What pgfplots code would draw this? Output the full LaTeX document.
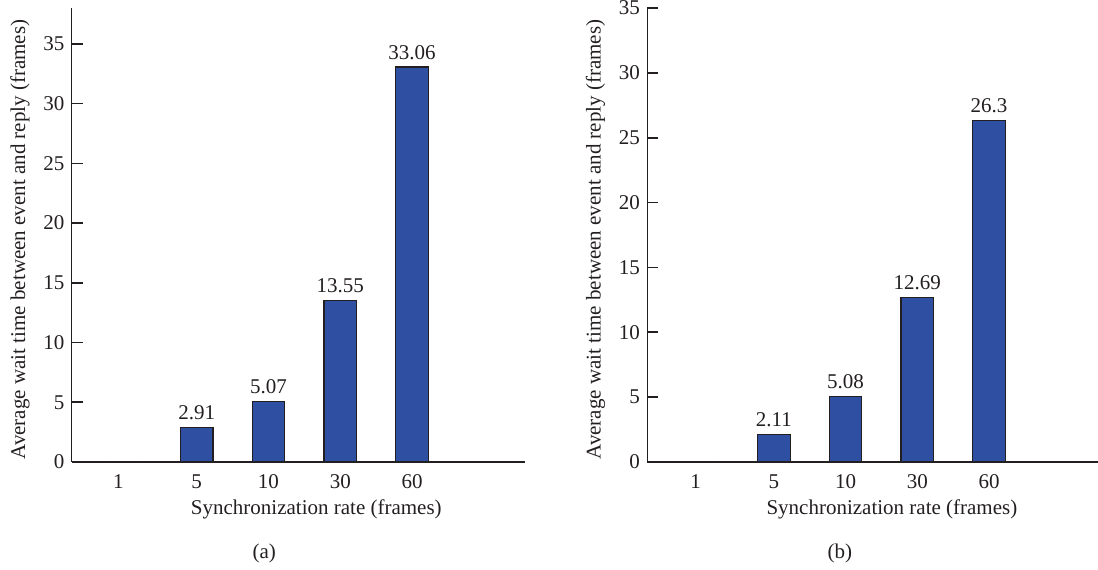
\documentclass[border=0pt]{standalone}
\usepackage{fontspec}
\setmainfont{Liberation Serif}
\usepackage{pgfplots}
\pgfplotsset{compat=1.18}
\definecolor{barblue}{RGB}{47,79,162}
\definecolor{ink}{RGB}{35,31,32}
\pgfplotsset{
 panel/.style={
  scale only axis, width=226.5pt, height=227pt,
  clip mode=individual,
  axis x line=bottom, axis y line=left,
  axis line style={-, line width=0.8pt, color=ink},
  enlargelimits=false, ymin=0,
  xtick={-0.09,1,2,3,4}, xticklabels={1,5,10,30,60},
  xtick style={draw=none},
  xticklabel style={yshift=-2.5pt},
  ytick={0,5,...,35}, tick align=inside, major tick length=5.5pt,
  ytick style={line width=0.8pt, color=ink},
  bar width=16.3pt,
  /pgf/number format/assume math mode=true,
  tick label style={color=ink},
  label style={color=ink},
  xlabel={Synchronization rate (frames)},
  xlabel style={at={(axis description cs:0.54,-0.1035)}, anchor=center},
  ylabel={Average wait time between event and reply (frames)},
  ylabel style={at={(axis description cs:-0.1143,0.49)}, anchor=center},
  nodes near coords style={color=ink},
 },
 bars/.style={ybar, fill=barblue, draw=ink, line width=0.6pt},
}
\begin{document}
\fontsize{10.5}{12.5}\selectfont
\begin{tikzpicture}
\path[use as bounding box] (-35.85pt,-53.5pt) rectangle (513.15pt,231pt);
\begin{axis}[panel, at={(0pt,0pt)}, anchor=south west,
  xmin=-0.742, xmax=5.57, ymax=38]
\addplot[bars, line width=0.9pt] coordinates {(0,0)};
\addplot[bars, nodes near coords, point meta=explicit symbolic]
  coordinates {(1,2.91)[2.91] (2,5.07)[5.07] (3,13.55)[13.55] (4,33.06)[33.06]};
\node[color=ink] at (axis description cs:0.425,-0.2004) {(a)};
\end{axis}
\begin{axis}[panel, at={(287.8pt,0pt)}, anchor=south west,
  xmin=-0.763, xmax=5.55, ymax=35]
\addplot[bars, line width=0.9pt] coordinates {(0,0)};
\addplot[bars, nodes near coords, point meta=explicit symbolic]
  coordinates {(1,2.11)[2.11] (2,5.08)[5.08] (3,12.69)[12.69] (4,26.3)[26.3]};
\node[color=ink] at (axis description cs:0.425,-0.2004) {(b)};
\end{axis}
\end{tikzpicture}
\end{document}
